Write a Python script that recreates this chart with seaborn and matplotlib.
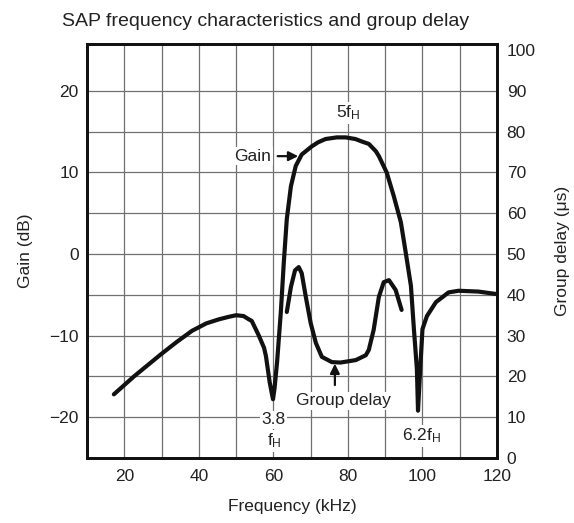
import numpy as np
import pandas as pd
import matplotlib
matplotlib.use("Agg")
import matplotlib.pyplot as plt
import seaborn as sns

# Gain curve (kHz, dB)
gain_freq = [17.2, 22.6, 29.8, 34.0, 38.2, 42.0, 45.4, 48.0, 50.0, 52.0, 53.4, 54.2,
             56.1, 57.5, 58.0, 59.0, 59.5, 59.9, 60.3, 61.0, 62.0, 62.8, 63.6, 64.7,
             66.0, 67.6, 70.3, 72.0, 74.0, 77.0, 79.4, 82.0, 83.7, 85.6, 87.5, 88.3,
             90.4, 92.3, 94.2, 95.5, 96.9, 97.7, 98.5, 98.8, 99.5, 100.0, 101.2,
             103.6, 107.0, 109.7, 115.0, 119.8]
gain_db = [-17.2, -15.0, -12.3, -10.8, -9.4, -8.5, -8.0, -7.7, -7.5, -7.6, -8.0, -8.2,
           -10.0, -11.5, -12.5, -15.7, -16.9, -17.8, -16.5, -13.2, -7.1, -1.0, 4.3, 8.3,
           10.8, 12.2, 13.2, 13.7, 14.1, 14.3, 14.3, 14.1, 13.8, 13.5, 12.6, 12.0,
           10.0, 7.1, 3.9, 0.2, -3.9, -9.2, -14.1, -19.2, -13.2, -9.2, -7.6,
           -5.9, -4.7, -4.5, -4.6, -4.9]

# Group delay curve (kHz, us)
delay_freq = [63.6, 64.7, 65.8, 66.8, 67.6, 68.7, 70.0, 71.4, 73.0, 75.7, 78.0, 82.1,
              84.8, 85.6, 86.9, 88.3, 89.6, 91.0, 92.8, 94.4]
delay_us = [35.8, 41.9, 46.0, 46.8, 45.3, 39.5, 33.1, 28.2, 24.8, 23.5, 23.4, 24.0,
            25.2, 26.5, 31.4, 39.5, 43.1, 43.6, 41.2, 36.3]

x_ticks = [20, 40, 60, 80, 100, 120]
gain_ticks = [-20, -10, 0, 10, 20]
delay_ticks = list(range(0, 101, 10))

sns.set_style("white")
plt.rcParams["font.family"] = ["Liberation Sans", "DejaVu Sans"]
plt.rcParams["mathtext.fontset"] = "custom"
plt.rcParams["mathtext.rm"] = "Liberation Sans"
plt.rcParams["mathtext.it"] = "Liberation Sans"

TXT = "#222222"
FS = 12.5

fig = plt.figure(figsize=(5.74, 5.23), dpi=100)
ax = fig.add_axes([0.1516, 0.1243, 0.8659 - 0.1516, 0.9159 - 0.1243])
ax2 = ax.twinx()

gain_df = pd.DataFrame({"freq": gain_freq, "gain": gain_db})
delay_df = pd.DataFrame({"freq": delay_freq, "delay": delay_us})

sns.lineplot(data=gain_df, x="freq", y="gain", ax=ax, color="#111111", lw=3.0,
             sort=False, estimator=None, zorder=5)
sns.lineplot(data=delay_df, x="freq", y="delay", ax=ax2, color="#111111", lw=3.0,
             sort=False, estimator=None, zorder=5)

ax.set_xlim(10, 120)
ax.set_ylim(-25, 25.75)
ax2.set_ylim(0, 101.5)

# grid: 10 kHz by 5 dB (drawn as lines so they don't depend on tick positions)
for xv in range(20, 120, 10):
    ax.axvline(xv, color="#707070", lw=0.9, zorder=0)
for yv in range(-20, 25, 5):
    ax.axhline(yv, color="#707070", lw=0.9, zorder=0)

ax.set_xticks(x_ticks)
ax.set_yticks(gain_ticks)
ax.set_yticklabels([str(t).replace("-", "\u2212") for t in gain_ticks])
ax2.set_yticks(delay_ticks)
ax.tick_params(which="both", length=0, labelsize=FS, labelcolor=TXT)
ax.tick_params(axis="y", pad=6)
ax.tick_params(axis="x", pad=8)
ax2.tick_params(length=0, labelsize=FS, labelcolor=TXT, pad=7)

for a in (ax, ax2):
    for s in a.spines.values():
        s.set_color("#111111")
        s.set_linewidth(2.0)

ax.set_xlabel("Frequency (kHz)", fontsize=FS, color=TXT, labelpad=11)
ax.set_ylabel("Gain (dB)", fontsize=FS, color=TXT, labelpad=12)
ax2.set_ylabel("Group delay (\u03bcs)", fontsize=FS, color=TXT, labelpad=14)
fig.text(266 / 574, 1 - 21 / 523, "SAP frequency characteristics and group delay",
         fontsize=14, color=TXT, ha="center", va="center")

box = dict(facecolor="white", edgecolor="none", pad=1.0)
ax.text(80, 17.3, r"5f$_\mathrm{H}$", ha="center", va="center", fontsize=FS,
        color=TXT, bbox=box, zorder=6)
ax.text(59.4, 12, "Gain", ha="right", va="center", fontsize=FS, color=TXT,
        bbox=box, zorder=6)
ax.annotate("", xy=(67.4, 12), xytext=(60.4, 12),
            arrowprops=dict(arrowstyle="-|>", color="#111111", lw=1.6,
                            mutation_scale=14), zorder=6)
ax.text(78.9, -18.0, "Group delay", ha="center", va="center", fontsize=FS,
        color=TXT, bbox=box, zorder=6)
ax.annotate("", xy=(76.5, -13.1), xytext=(76.5, -16.4),
            arrowprops=dict(arrowstyle="-|>", color="#111111", lw=1.6,
                            mutation_scale=14), zorder=6)
ax.text(60.1, -20.3, "3.8", ha="center", va="center", fontsize=FS, color=TXT,
        bbox=box, zorder=6)
ax.text(60.2, -22.9, r"f$_\mathrm{H}$", ha="center", va="center", fontsize=FS,
        color=TXT, bbox=box, zorder=6)
ax.text(99.7, -22.3, r"6.2f$_\mathrm{H}$", ha="center", va="center", fontsize=FS,
        color=TXT, bbox=box, zorder=6)

fig.savefig("out.png", dpi=100)
